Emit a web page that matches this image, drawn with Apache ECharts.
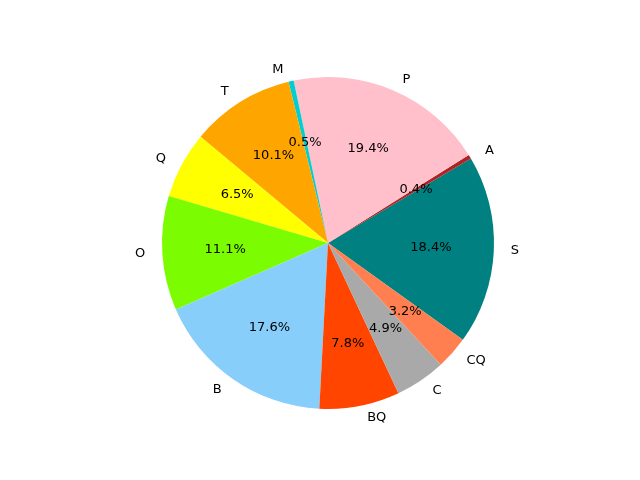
<!DOCTYPE html>
<html><head><meta charset="utf-8">
<script src="https://cdn.jsdelivr.net/npm/echarts@6/dist/echarts.min.js"></script>
<style>html,body{margin:0;padding:0;background:#fff}#c{width:640px;height:480px}</style>
</head><body><div id="c"></div>
<script>
const categories = ['S','A','P','M','T','Q','O','B','BQ','C','CQ'];
const values = [18.4,0.4,19.4,0.5,10.1,6.5,11.1,17.6,7.8,4.9,3.2];
const colors = ['#008080','#b22222','#ffc0cb','#00ced1','#ffa500','#ffff00','#7cfc00','#87cefa','#ff4500','#a9a9a9','#ff7f50'];
const data = categories.map((c,i)=>({name:c,value:values[i],itemStyle:{color:colors[i]}}));
const chart = echarts.init(document.getElementById('c'));
const font = {fontFamily:'DejaVu Sans',fontSize:13,color:'#000'};
chart.setOption({
  animation:false,
  series:[
    {type:'pie',center:[328,243],radius:166,startAngle:-35.7,clockwise:false,
     data:data,
     label:Object.assign({show:true,position:'outside',formatter:'{b}'},font),
     labelLine:{show:false,length:12,length2:0},
     emphasis:{disabled:true}},
    {type:'pie',center:[328,243],radius:[0,200],startAngle:-35.7,clockwise:false,silent:true,
     data:categories.map((c,i)=>({name:c,value:values[i]})),
     itemStyle:{color:'rgba(0,0,0,0)'},
     label:Object.assign({show:true,position:'inside',formatter:p=>p.value.toFixed(1)+'%'},font),
     labelLine:{show:false},
     emphasis:{disabled:true}}
  ]
});
</script></body></html>
